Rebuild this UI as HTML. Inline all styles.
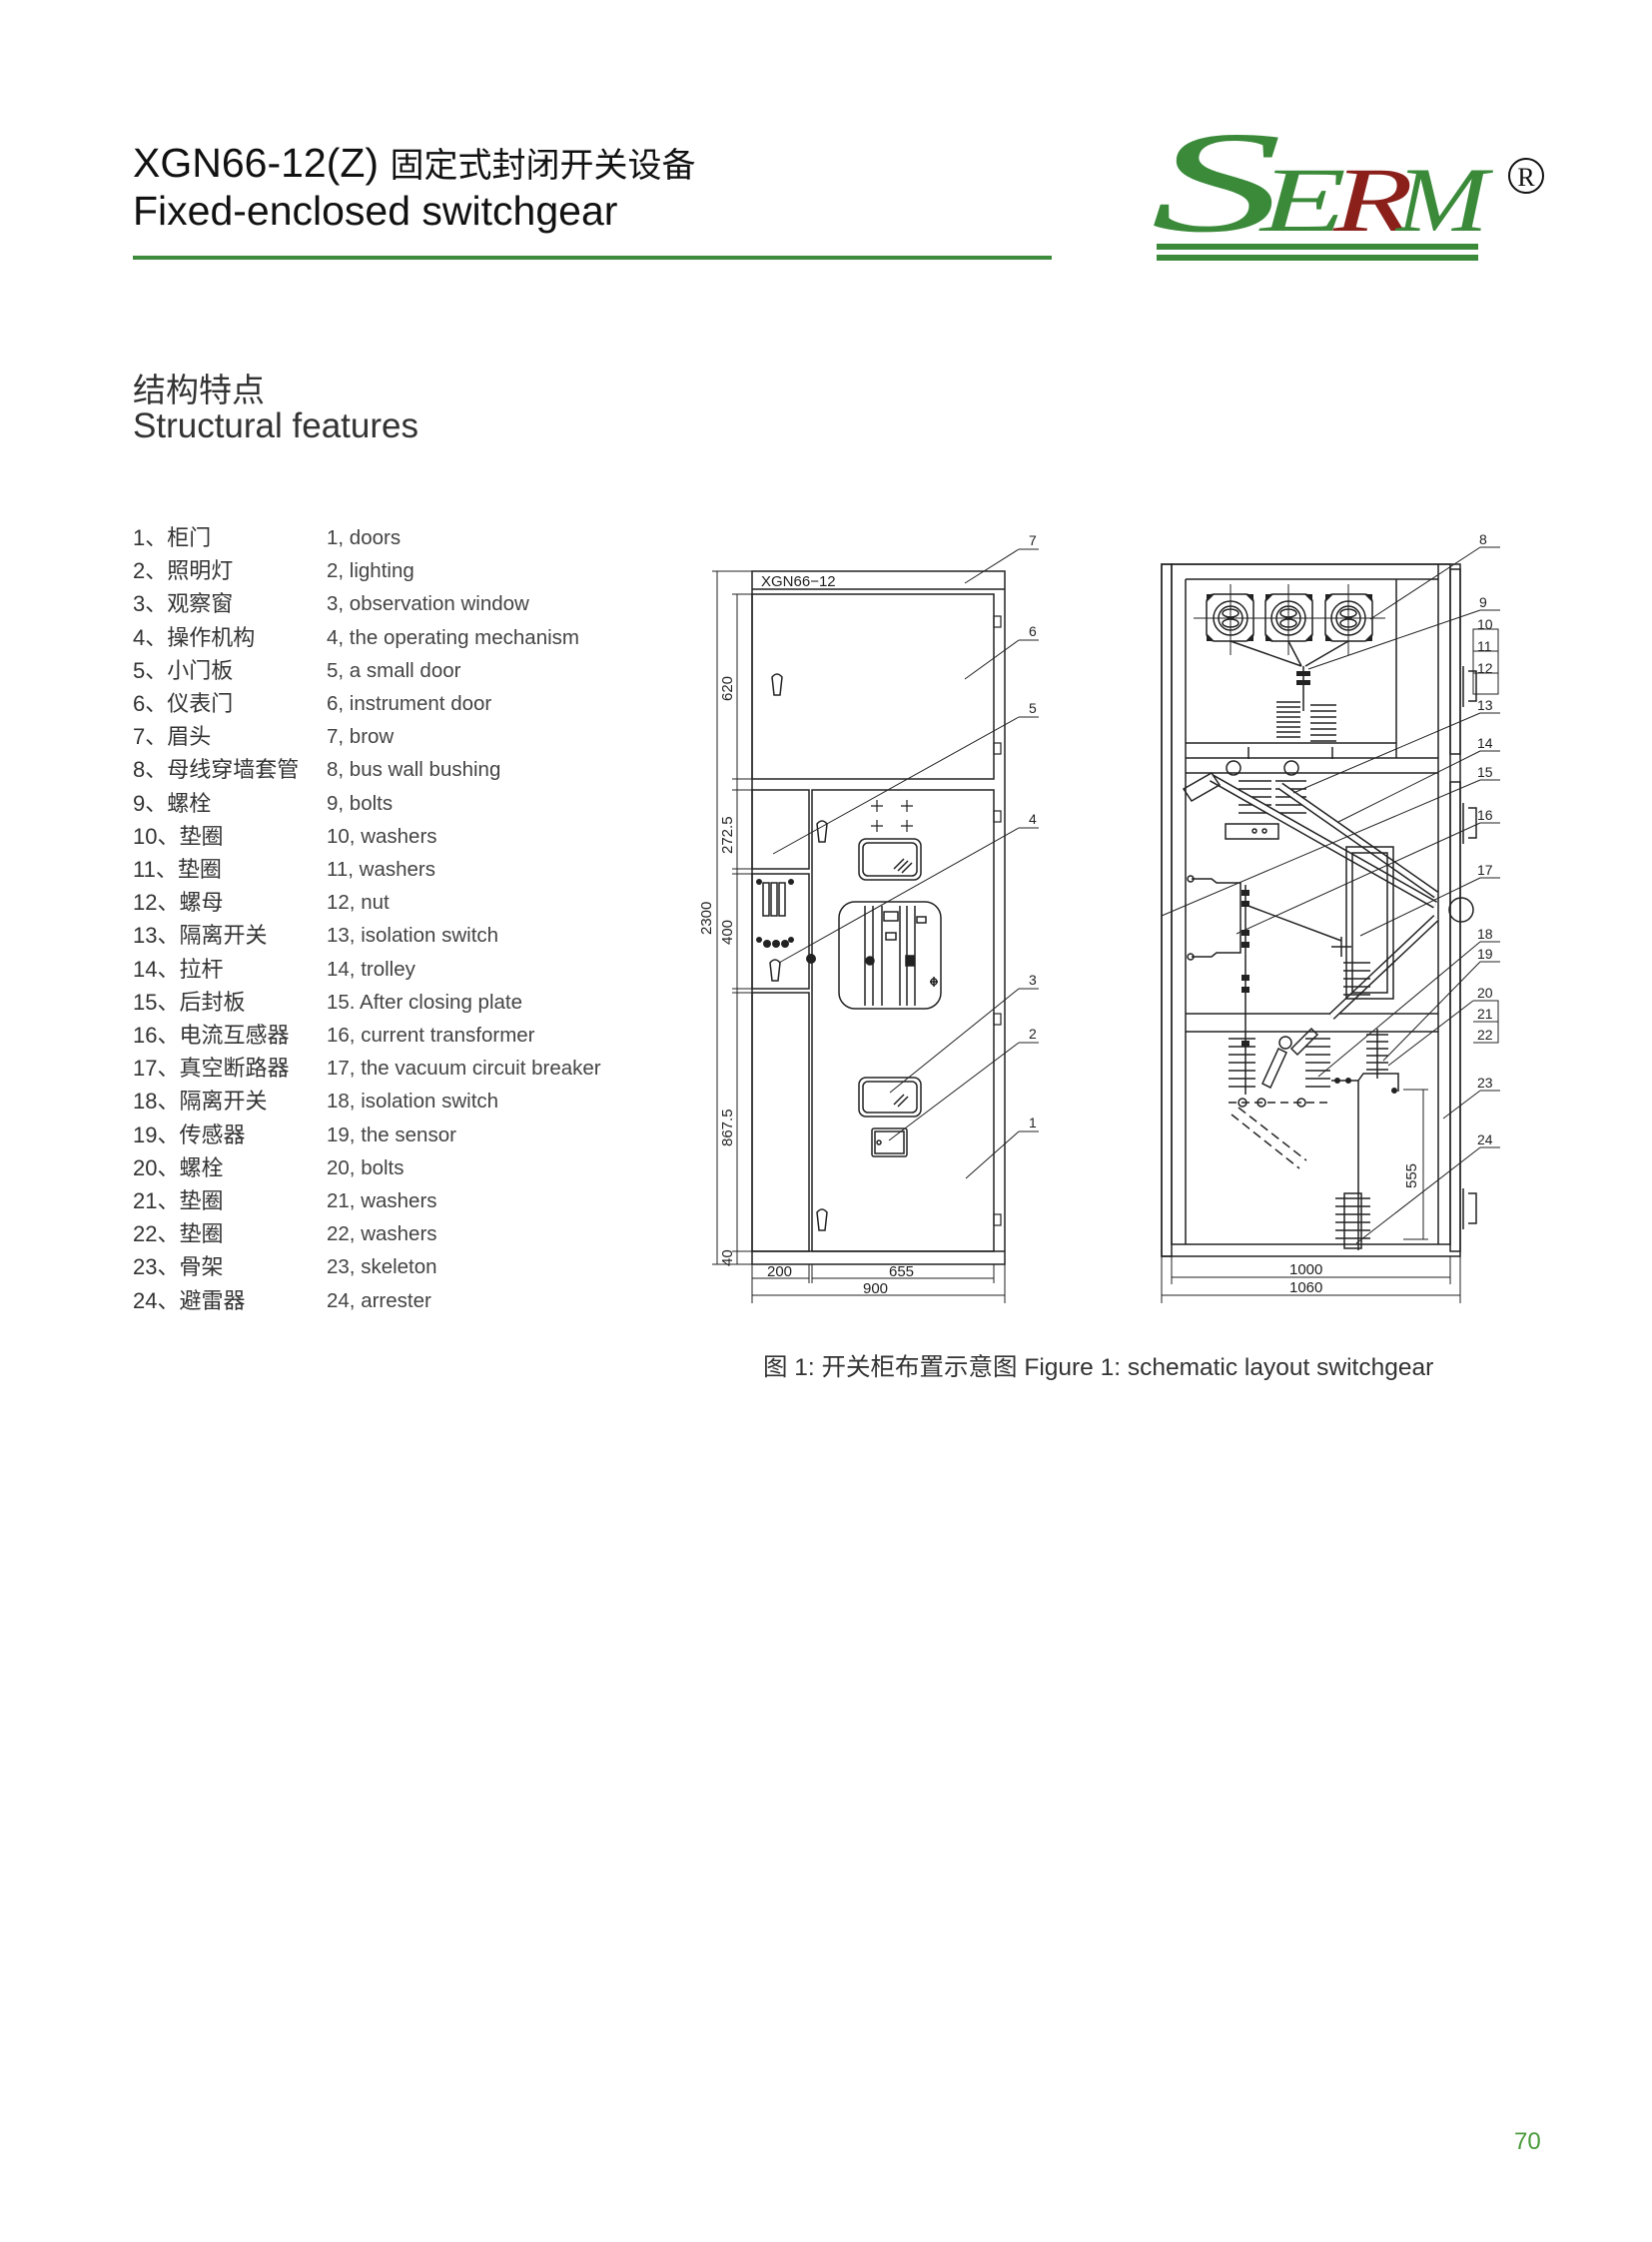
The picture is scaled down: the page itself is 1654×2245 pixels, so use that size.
<!DOCTYPE html>
<html><head><meta charset="utf-8">
<style>
html,body{margin:0;padding:0;background:#fff;}
body{width:1654px;height:2245px;position:relative;overflow:hidden;font-family:"Liberation Sans","Noto Sans CJK SC",sans-serif;color:#222;}
.t{position:absolute;white-space:nowrap;}
.li{position:absolute;white-space:nowrap;font-size:22px;color:#333;line-height:24px;}
.le{position:absolute;white-space:nowrap;font-size:20.5px;color:#444;line-height:24px;}
</style></head><body>
<div class="t" style="left:133px;top:138px;font-size:41px;color:#111;">XGN66-12(Z) <span style="font-family:'Noto Sans CJK SC',sans-serif;font-size:34px;">固定式封闭开关设备</span></div>
<div class="t" style="left:133px;top:188px;font-size:41px;color:#111;">Fixed-enclosed switchgear</div>
<div style="position:absolute;left:133px;top:256px;width:920px;height:4px;background:#3d8b3d;"></div>

<svg style="position:absolute;left:0;top:0" width="1654" height="2245" xmlns="http://www.w3.org/2000/svg">
<g font-family="Liberation Serif,serif" font-style="italic">
<text x="1152" y="231" font-size="145" fill="#3a8a3a" textLength="132" lengthAdjust="spacingAndGlyphs">S</text>
<text x="1262" y="231" font-size="92" fill="#3a8a3a" textLength="86" lengthAdjust="spacingAndGlyphs">E</text>
<text x="1335" y="231" font-size="92" fill="#8b1f1a" textLength="80" lengthAdjust="spacingAndGlyphs">R</text>
<text x="1398" y="231" font-size="92" fill="#3a8a3a" textLength="92" lengthAdjust="spacingAndGlyphs">M</text>
</g>
<rect x="1158" y="244" width="322" height="6" fill="#3a8a3a"/>
<rect x="1158" y="255" width="322" height="6" fill="#3a8a3a"/>
<circle cx="1528" cy="176" r="17" fill="none" stroke="#111" stroke-width="2"/>
<text x="1528" y="186" font-size="26" text-anchor="middle" font-family="Liberation Serif,serif" fill="#111">R</text>

<!-- LEFT DRAWING -->
<g fill="none" stroke="#222" stroke-width="1.5" font-family="Liberation Sans,sans-serif">
<rect x="753" y="572" width="253" height="694"/>
<line x1="753" y1="590" x2="1006" y2="590"/>
<rect x="753" y="595" width="242" height="185"/>
<rect x="753" y="791" width="57" height="79"/>
<rect x="753" y="875" width="57" height="115"/>
<rect x="753" y="994" width="57" height="259"/>
<rect x="813" y="791" width="182" height="462"/>
<line x1="753" y1="1253" x2="1006" y2="1253"/>
<g stroke-width="1.2">
<rect x="995" y="617" width="7" height="11"/><rect x="995" y="744" width="7" height="11"/>
<rect x="995" y="812" width="7" height="11"/><rect x="995" y="1015" width="7" height="11"/><rect x="995" y="1216" width="7" height="11"/>
</g>
<path d="M773 678 q5 -6 10 0 l-2 18 h-6 z"/><path d="M818 825 q5 -6 10 0 l-2 18 h-6 z"/>
<path d="M771 964 q5 -6 10 0 l-2 18 h-6 z"/><path d="M818 1214 q5 -6 10 0 l-2 18 h-6 z"/>
<g stroke-width="1.2"><path d="M872 807h12M878 801v12M902 807h12M908 801v12M872 827h12M878 821v12M902 827h12M908 821v12"/></g>
<rect x="860" y="840" width="62" height="41" rx="7"/><rect x="864" y="844" width="54" height="33" rx="5"/>
<path d="M895 870l10 -10M899 872l10 -10M903 874l10 -10"/>
<rect x="840" y="903" width="102" height="107" rx="16"/>
<path d="M866 907v100M874 907v100M883 907v100M901 907v100M908 907v100M916 907v100"/>
<rect x="885" y="913" width="14" height="9"/><rect x="887" y="934" width="10" height="7"/>
<rect x="918" y="918" width="9" height="6"/>
<circle cx="871" cy="962" r="4" fill="#222"/><rect x="907" y="957" width="8" height="10" fill="#222"/>
<path d="M931 983h8M935 978v10"/><circle cx="935" cy="983" r="3"/>
<rect x="860" y="1079" width="62" height="39" rx="7"/><rect x="864" y="1083" width="54" height="31" rx="5"/>
<path d="M895 1106l10 -10M899 1108l10 -10"/>
<rect x="873" y="1130" width="35" height="28" rx="2"/><rect x="876" y="1133" width="29" height="22"/><circle cx="880" cy="1144" r="2"/>
<rect x="764" y="884" width="6" height="33"/><rect x="772" y="884" width="6" height="33"/><rect x="780" y="884" width="6" height="33"/>
<g fill="#222" stroke="none"><circle cx="760" cy="883" r="3"/><circle cx="792" cy="883" r="3"/><circle cx="760" cy="941" r="3"/><circle cx="792" cy="941" r="3"/>
<circle cx="768" cy="945" r="4"/><circle cx="777" cy="945" r="4"/><circle cx="786" cy="945" r="4"/><circle cx="812" cy="960" r="5"/></g>
<g stroke-width="1">
<line x1="718" y1="572" x2="718" y2="1266"/><line x1="713" y1="572" x2="753" y2="572"/><line x1="713" y1="1266" x2="753" y2="1266"/>
<line x1="738" y1="595" x2="738" y2="1266"/>
<path d="M733 595h20M733 780h20M733 791h20M733 870h20M733 875h20M733 990h20M733 994h20M733 1253h20"/>
<line x1="753" y1="1266" x2="753" y2="1305"/><line x1="810" y1="1266" x2="810" y2="1285"/><line x1="813" y1="1266" x2="813" y2="1285"/>
<line x1="995" y1="1266" x2="995" y2="1285"/><line x1="1006" y1="1266" x2="1006" y2="1305"/>
<line x1="753" y1="1280" x2="810" y2="1280"/><line x1="813" y1="1280" x2="995" y2="1280"/><line x1="753" y1="1297" x2="1006" y2="1297"/>
</g>
<g stroke-width="1">
<path d="M1020 550h20M1020 550L966 584"/><path d="M1020 641h20M1020 641L966 680"/>
<path d="M1020 718h20M1020 718L774 855"/><path d="M1020 829h20M1020 829L780 964"/>
<path d="M1020 990h20M1020 990L891 1094"/><path d="M1020 1044h20M1020 1044L890 1142"/>
<path d="M1020 1133h20M1020 1133L967 1180"/>
</g>
</g>
<g font-family="Liberation Sans,sans-serif" fill="#222" font-size="15">
<text x="762" y="587">XGN66−12</text>
<text x="1030" y="546" font-size="14">7</text><text x="1030" y="637" font-size="14">6</text><text x="1030" y="714" font-size="14">5</text>
<text x="1030" y="825" font-size="14">4</text><text x="1030" y="986" font-size="14">3</text><text x="1030" y="1040" font-size="14">2</text><text x="1030" y="1129" font-size="14">1</text>
<text transform="translate(712,936) rotate(-90)">2300</text>
<text transform="translate(733,702) rotate(-90)">620</text>
<text transform="translate(733,855) rotate(-90)">272.5</text>
<text transform="translate(733,946) rotate(-90)">400</text>
<text transform="translate(733,1148) rotate(-90)">867.5</text>
<text transform="translate(733,1268) rotate(-90)">40</text>
<text x="768" y="1278">200</text><text x="890" y="1278">655</text><text x="864" y="1295">900</text>
</g>

<!-- RIGHT DRAWING -->
<g fill="none" stroke="#222" stroke-width="1.5">
<rect x="1163" y="565" width="299" height="693"/>
<rect x="1163" y="565" width="10" height="693"/>
<rect x="1173" y="565" width="279" height="681"/>
<line x1="1187" y1="580" x2="1187" y2="1246"/><line x1="1440" y1="565" x2="1440" y2="1246"/>
<line x1="1187" y1="580" x2="1440" y2="580"/>
<rect x="1452" y="570" width="10" height="185"/><rect x="1452" y="783" width="10" height="470"/>
<line x1="1398" y1="580" x2="1398" y2="759"/>
<line x1="1187" y1="744" x2="1398" y2="744"/><line x1="1187" y1="759" x2="1440" y2="759"/><line x1="1187" y1="774" x2="1440" y2="774"/>
<line x1="1187" y1="1015" x2="1440" y2="1015"/><line x1="1187" y1="1033" x2="1440" y2="1033"/>
<g>
<rect x="1208" y="595" width="47" height="47" rx="8"/><circle cx="1232" cy="619" r="17"/><circle cx="1232" cy="619" r="12"/><ellipse cx="1232" cy="614" rx="8" ry="4"/><ellipse cx="1232" cy="624" rx="8" ry="4"/>
<rect x="1267" y="595" width="47" height="47" rx="8"/><circle cx="1290" cy="619" r="17"/><circle cx="1290" cy="619" r="12"/><ellipse cx="1290" cy="614" rx="8" ry="4"/><ellipse cx="1290" cy="624" rx="8" ry="4"/>
<rect x="1327" y="595" width="47" height="47" rx="8"/><circle cx="1350" cy="619" r="17"/><circle cx="1350" cy="619" r="12"/><ellipse cx="1350" cy="614" rx="8" ry="4"/><ellipse cx="1350" cy="624" rx="8" ry="4"/>
<path d="M1195 619h192M1232 585v71M1290 585v71M1350 585v71" stroke-width="1"/>
<g fill="#222" stroke="none"><path d="M1208 595h8l-8 8z M1255 595h-8l8 8z M1208 642h8l-8 -8z M1255 642h-8l8 -8z"/>
<path d="M1267 595h8l-8 8z M1314 595h-8l8 8z M1267 642h8l-8 -8z M1314 642h-8l8 -8z"/>
<path d="M1327 595h8l-8 8z M1374 595h-8l8 8z M1327 642h8l-8 -8z M1374 642h-8l8 -8z"/></g>
</g>
<path d="M1232 642L1303 667M1290 642L1303 667M1350 642L1307 667M1305 667v45"/>
<g fill="#222" stroke="none"><rect x="1298" y="672" width="14" height="5"/><rect x="1298" y="681" width="14" height="5"/></g>
<path d="M1278 703h24M1278 708h24M1278 713h24M1278 718h24M1278 723h24M1278 728h24M1278 733h24M1278 738h24"/>
<path d="M1312 706h26M1312 712h26M1312 718h26M1312 724h26M1312 730h26M1312 736h26M1312 742h26"/>
<path d="M1250 748v12M1334 748v12"/>
<circle cx="1235" cy="769" r="7"/><circle cx="1293" cy="769" r="7"/>
<path d="M1240 782h33M1240 790h33M1240 798h33M1240 806h33M1240 814h33M1277 782h31M1277 790h31M1277 798h31M1277 806h31M1277 814h31"/>
<path d="M1213 779L1437 906" stroke-width="8"/><path d="M1213 779L1437 906" stroke="#fff" stroke-width="5"/>
<path d="M1282 787L1438 896" stroke-width="8"/><path d="M1282 787L1438 896" stroke="#fff" stroke-width="5"/>
<path d="M1333 1018L1438 919" stroke-width="8"/><path d="M1333 1018L1438 919" stroke="#fff" stroke-width="5"/>
<path d="M1185 790l28 -16l8 12l-28 16z"/>
<path d="M1227 825h53v15h-53z"/><circle cx="1256" cy="832" r="2"/><circle cx="1266" cy="832" r="2"/>
<rect x="1348" y="848" width="47" height="152"/><rect x="1354" y="854" width="35" height="140"/>
<path d="M1193 880h20l5 4h24v70h-24l-5 4h-20" /><circle cx="1192" cy="880" r="3"/><circle cx="1192" cy="958" r="3"/>
<path d="M1247 886v210"/>
<g fill="#222" stroke="none"><rect x="1243" y="891" width="8" height="6"/><rect x="1243" y="902" width="8" height="6"/><rect x="1243" y="931" width="8" height="6"/><rect x="1243" y="943" width="8" height="6"/><rect x="1243" y="976" width="8" height="6"/><rect x="1243" y="988" width="8" height="6"/><rect x="1243" y="1042" width="8" height="6"/></g>
<path d="M1247 906L1343 942"/><path d="M1333 948h20M1343 938v20"/>
<path d="M1345 964h27M1345 972h27M1345 980h27M1345 988h27M1345 996h27"/>
<path d="M1230 1040h27M1230 1048h27M1230 1056h27M1230 1064h27M1230 1072h27M1230 1080h27M1230 1088h27"/>
<path d="M1307 1040h25M1307 1048h25M1307 1056h25M1307 1064h25M1307 1072h25M1307 1080h25M1307 1088h25"/>
<path d="M1368 1036h22M1368 1043h22M1368 1050h22M1368 1057h22M1368 1064h22M1368 1071h22M1379 1030v50"/>
<path d="M1264 1085l16 -35l8 4l-16 35z"/><circle cx="1287" cy="1044" r="6"/><path d="M1293 1050l20 -20l6 6l-20 20z"/>
<path d="M1230 1104h103" stroke-dasharray="8 5"/>
<path d="M1240 1109L1308 1162M1233 1116L1301 1170" stroke-dasharray="9 5"/>
<circle cx="1244" cy="1104" r="4"/><circle cx="1263" cy="1104" r="4"/><circle cx="1303" cy="1104" r="4"/>
<path d="M1333 1082h27v170M1360 1082l5 -7h35v18"/>
<g fill="#222" stroke="none"><circle cx="1339" cy="1082" r="3"/><circle cx="1350" cy="1082" r="3"/><circle cx="1396" cy="1092" r="3"/></g>
<path d="M1337 1200h35M1337 1208h35M1337 1216h35M1337 1224h35M1337 1232h35M1337 1240h35M1346 1195v55h17v-55z"/>
<path d="M1465 667v41M1470 672h8v30h-8M1465 804v41M1470 809h8v30h-8M1465 1190v41M1470 1195h8v30h-8"/>
<circle cx="1463" cy="911" r="12"/>
<g stroke-width="1">
<path d="M1405 1091h25M1425 1091v150M1405 1241h25"/>
<path d="M1163 1258v47M1173 1258v28M1452 1258v28M1462 1258v47"/>
<line x1="1173" y1="1279" x2="1452" y2="1279"/><line x1="1163" y1="1297" x2="1462" y2="1297"/>
</g>
<g stroke-width="1">
<path d="M1482 548h20M1482 548L1372 620"/>
<path d="M1482 611h20M1482 611L1310 670"/>
<path d="M1475 630h25v65h-25z" /><line x1="1475" y1="652" x2="1500" y2="652"/><line x1="1475" y1="674" x2="1500" y2="674"/>
<path d="M1482 714h20M1482 714L1295 794"/>
<path d="M1482 752h20M1482 752L1340 823"/>
<path d="M1482 781h20M1482 781L1163 917"/>
<path d="M1482 824h20M1482 824L1238 935"/>
<path d="M1482 879h20M1482 879L1362 937"/>
<path d="M1482 943h20M1482 943L1320 1078"/>
<path d="M1482 963h20M1482 963L1385 1062"/>
<path d="M1475 1002h25v42h-25M1475 1023h25M1475 1002L1390 1067"/>
<path d="M1482 1092h20M1482 1092L1445 1120"/>
<path d="M1482 1149h20M1482 1149L1358 1245"/>
</g>
</g>
<g font-family="Liberation Sans,sans-serif" fill="#222" font-size="14">
<text x="1481" y="545">8</text><text x="1481" y="608">9</text>
<text x="1479" y="630">10</text><text x="1479" y="652">11</text><text x="1479" y="674">12</text>
<text x="1479" y="711">13</text><text x="1479" y="749">14</text><text x="1479" y="778">15</text><text x="1479" y="821">16</text>
<text x="1479" y="876">17</text><text x="1479" y="940">18</text><text x="1479" y="960">19</text>
<text x="1479" y="999">20</text><text x="1479" y="1020">21</text><text x="1479" y="1041">22</text>
<text x="1479" y="1089">23</text><text x="1479" y="1146">24</text>
<text transform="translate(1418,1190) rotate(-90)" font-size="15">555</text>
<text x="1291" y="1276" font-size="15">1000</text><text x="1291" y="1294" font-size="15">1060</text>
</g>
</svg>

<div class="t" style="left:133px;top:364px;font-size:33px;color:#333;font-family:'Noto Sans CJK SC',sans-serif;">结构特点</div>
<div class="t" style="left:133px;top:407px;font-size:35px;color:#333;">Structural features</div>

<div class="li" style="left:133px;top:527px;">1、柜门</div><div class="le" style="left:327px;top:527px;">1, doors</div>
<div class="li" style="left:133px;top:560px;">2、照明灯</div><div class="le" style="left:327px;top:560px;">2, lighting</div>
<div class="li" style="left:133px;top:593px;">3、观察窗</div><div class="le" style="left:327px;top:593px;">3, observation window</div>
<div class="li" style="left:133px;top:627px;">4、操作机构</div><div class="le" style="left:327px;top:627px;">4, the operating mechanism</div>
<div class="li" style="left:133px;top:660px;">5、小门板</div><div class="le" style="left:327px;top:660px;">5, a small door</div>
<div class="li" style="left:133px;top:693px;">6、仪表门</div><div class="le" style="left:327px;top:693px;">6, instrument door</div>
<div class="li" style="left:133px;top:726px;">7、眉头</div><div class="le" style="left:327px;top:726px;">7, brow</div>
<div class="li" style="left:133px;top:759px;">8、母线穿墙套管</div><div class="le" style="left:327px;top:759px;">8, bus wall bushing</div>
<div class="li" style="left:133px;top:793px;">9、螺栓</div><div class="le" style="left:327px;top:793px;">9, bolts</div>
<div class="li" style="left:133px;top:826px;">10、垫圈</div><div class="le" style="left:327px;top:826px;">10, washers</div>
<div class="li" style="left:133px;top:859px;">11、垫圈</div><div class="le" style="left:327px;top:859px;">11, washers</div>
<div class="li" style="left:133px;top:892px;">12、螺母</div><div class="le" style="left:327px;top:892px;">12, nut</div>
<div class="li" style="left:133px;top:925px;">13、隔离开关</div><div class="le" style="left:327px;top:925px;">13, isolation switch</div>
<div class="li" style="left:133px;top:959px;">14、拉杆</div><div class="le" style="left:327px;top:959px;">14, trolley</div>
<div class="li" style="left:133px;top:992px;">15、后封板</div><div class="le" style="left:327px;top:992px;">15. After closing plate</div>
<div class="li" style="left:133px;top:1025px;">16、电流互感器</div><div class="le" style="left:327px;top:1025px;">16, current transformer</div>
<div class="li" style="left:133px;top:1058px;">17、真空断路器</div><div class="le" style="left:327px;top:1058px;">17, the vacuum circuit breaker</div>
<div class="li" style="left:133px;top:1091px;">18、隔离开关</div><div class="le" style="left:327px;top:1091px;">18, isolation switch</div>
<div class="li" style="left:133px;top:1125px;">19、传感器</div><div class="le" style="left:327px;top:1125px;">19, the sensor</div>
<div class="li" style="left:133px;top:1158px;">20、螺栓</div><div class="le" style="left:327px;top:1158px;">20, bolts</div>
<div class="li" style="left:133px;top:1191px;">21、垫圈</div><div class="le" style="left:327px;top:1191px;">21, washers</div>
<div class="li" style="left:133px;top:1224px;">22、垫圈</div><div class="le" style="left:327px;top:1224px;">22, washers</div>
<div class="li" style="left:133px;top:1257px;">23、骨架</div><div class="le" style="left:327px;top:1257px;">23, skeleton</div>
<div class="li" style="left:133px;top:1291px;">24、避雷器</div><div class="le" style="left:327px;top:1291px;">24, arrester</div>

<div class="t" style="left:764px;top:1350px;font-size:24.5px;color:#333;">图 1: 开关柜布置示意图 Figure 1: schematic layout switchgear</div>
<div class="t" style="left:1516px;top:2131px;font-size:24px;color:#4a9a3a;">70</div>
</body></html>
